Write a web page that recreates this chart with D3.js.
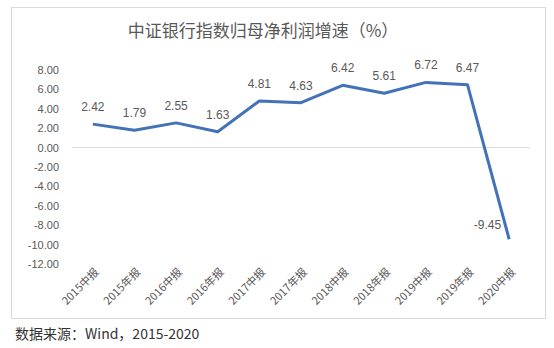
<!DOCTYPE html>
<html>
<head>
<meta charset="utf-8">
<script src="https://cdn.jsdelivr.net/npm/d3@7"></script>
<style>
  html, body { margin: 0; padding: 0; background: #fff; }
  svg { display: block; }
</style>
</head>
<body>
<svg id="chart" width="554" height="348"></svg>
<script>
// Reporting periods and net-profit growth (%) of the CSI bank index
const categories = ["2015中报", "2015年报", "2016中报", "2016年报", "2017中报", "2017年报",
                    "2018中报", "2018年报", "2019中报", "2019年报", "2020中报"];
const growth = [2.42, 1.79, 2.55, 1.63, 4.81, 4.63, 6.42, 5.61, 6.72, 6.47, -9.45];
const yTicks = [8, 6, 4, 2, 0, -2, -4, -6, -8, -10, -12];
const titleText = "中证银行指数归母净利润增速（%）";
const sourceText = "数据来源：Wind，2015-2020";

const svg = d3.select("#chart");
const font = "'Noto Sans CJK SC', 'Liberation Sans', sans-serif";
const numFont = "'Liberation Sans', Arial, sans-serif";
const textGrey = "#595959";
// two decimals, plain hyphen for negatives
const fmt = d => d3.format(".2f")(d).replace("\u2212", "-");

// Chart frame
svg.append("rect")
  .attr("x", 11.5).attr("y", 7.5)
  .attr("width", 534).attr("height", 311)
  .attr("fill", "#fff")
  .attr("stroke", "#d9d9d9").attr("stroke-width", 1);

svg.append("text")
  .attr("x", 263).attr("y", 37)
  .attr("text-anchor", "middle")
  .attr("font-family", font)
  .attr("font-size", 17)
  .attr("fill", textGrey)
  .text(titleText);

const x = d3.scaleBand().domain(categories).range([72, 530]).paddingInner(0).paddingOuter(0);
const y = d3.scaleLinear().domain([-12, 8]).range([264, 70]);
const cx = d => x(d) + x.bandwidth() / 2;

// Y axis labels (no axis line)
const yAxis = d3.axisLeft(y).tickValues(yTicks).tickSize(0).tickPadding(0).tickFormat(fmt);
const gy = svg.append("g").attr("transform", "translate(59,0)").call(yAxis);
gy.select(".domain").remove();
gy.selectAll("text")
  .attr("font-family", numFont)
  .attr("font-size", 11)
  .attr("fill", textGrey);

// Zero baseline
svg.append("line")
  .attr("x1", 72).attr("x2", 530)
  .attr("y1", y(0)).attr("y2", y(0))
  .attr("stroke", "#d9d9d9").attr("stroke-width", 1);

// X axis category labels, rotated
const xAxis = d3.axisBottom(x).tickSize(0).tickPadding(0);
const gx = svg.append("g").attr("transform", "translate(0,268)").call(xAxis);
gx.select(".domain").remove();
gx.selectAll("text")
  .attr("font-family", font)
  .attr("font-size", 11)
  .attr("fill", textGrey)
  .attr("text-anchor", "end")
  .attr("dy", "0.35em")
  .attr("transform", "translate(4,2) rotate(-45)");

// Growth line
const pts = categories.map((c, i) => ({ c, v: growth[i] }));
svg.append("path")
  .datum(pts)
  .attr("fill", "none")
  .attr("stroke", "#4372b8")
  .attr("stroke-width", 3)
  .attr("stroke-linejoin", "round")
  .attr("d", d3.line().x(d => cx(d.c)).y(d => y(d.v)));

// Value labels
svg.append("g").selectAll("text")
  .data(pts)
  .join("text")
  .attr("x", d => d.v < 0 ? cx(d.c) - 8 : cx(d.c))
  .attr("y", d => d.v < 0 ? y(d.v) - 10 : y(d.v) - 13)
  .attr("text-anchor", d => d.v < 0 ? "end" : "middle")
  .attr("font-family", numFont)
  .attr("font-size", 12)
  .attr("fill", textGrey)
  .text(d => fmt(d.v));

// Source note
svg.append("text")
  .attr("x", 15).attr("y", 339)
  .attr("font-family", font)
  .attr("font-size", 14)
  .attr("fill", "#333")
  .text(sourceText);
</script>
</body>
</html>
